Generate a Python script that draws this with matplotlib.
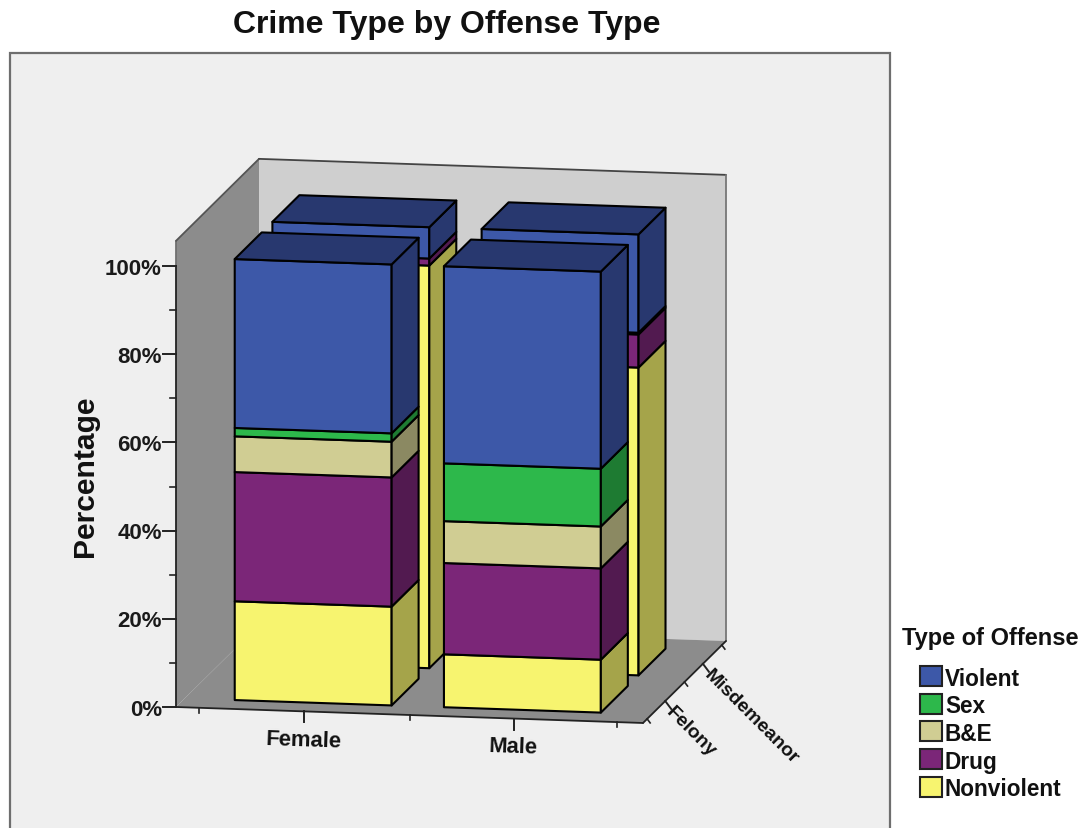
import numpy as np
import matplotlib
matplotlib.use("Agg")
import matplotlib.pyplot as plt
from matplotlib.patches import Polygon, Rectangle

plt.rcParams['font.family'] = ['Liberation Sans', 'DejaVu Sans']

title = "Crime Type by Offense Type"
y_label = "Percentage"
legend_title = "Type of Offense"
genders = ["Female", "Male"]
crime_types = ["Felony", "Misdemeanor"]
# bottom to top of each stack
offenses = ["Nonviolent", "Drug", "B&E", "Sex", "Violent"]
front_colors = ["#F7F46F", "#7B2678", "#D0CD93", "#2DB84B", "#3D58A8"]
side_colors = ["#A5A44A", "#521A50", "#8B8962", "#1E7B32", "#28386F"]

female_felony = [22.4, 29.3, 8.1, 1.9, 38.3]
female_misd = [91.3, 1.6, 0.0, 0.0, 7.1]
male_felony = [12.0, 20.7, 9.5, 13.1, 44.7]
male_misd = [69.8, 7.5, 0.4, 0.0, 22.3]

y_major = [0, 20, 40, 60, 80, 100]
y_minor = [10, 30, 50, 70, 90]

# oblique projection of the box, in pixels
origin = np.array([176.0, 708.0])
x_vec = np.array([467.0, 16.0])
d_vec = np.array([83.0, -82.0])
v_vec = np.array([0.0, -4.41])
v_top = 105.7

x_pos = [0.275, 0.723]
d_pos = [0.268, 0.722]
x_minor = [0.05, 0.5, 0.945]
d_minor = [0.05, 0.5, 0.95]
bar_w = 0.336
bar_d = 0.325


def proj(x, d, v):
    return origin + x * x_vec + d * d_vec + v * v_vec


def face(ax, pts, color, lw=1.5, edge="black", z=2):
    ax.add_patch(Polygon(pts, closed=True, facecolor=color, edgecolor=edge,
                         linewidth=lw, joinstyle="round", zorder=z))


def draw_bar(ax, xc, dc, values):
    x0, x1 = xc - bar_w / 2, xc + bar_w / 2
    d0, d1 = dc - bar_d / 2, dc + bar_d / 2
    tops = np.cumsum(values)
    bottoms = tops - np.array(values)
    for i in range(len(values)):
        if values[i] <= 0:
            continue
        b, t = bottoms[i], tops[i]
        face(ax, [proj(x0, d0, b), proj(x1, d0, b), proj(x1, d0, t), proj(x0, d0, t)], front_colors[i])
        face(ax, [proj(x1, d0, b), proj(x1, d1, b), proj(x1, d1, t), proj(x1, d0, t)], side_colors[i])
    t = tops[-1]
    face(ax, [proj(x0, d0, t), proj(x1, d0, t), proj(x1, d1, t), proj(x0, d1, t)], side_colors[-1])


fig = plt.figure(figsize=(10.9, 8.29), dpi=100, facecolor="white")
ax = fig.add_axes([0, 0, 1, 1])
ax.set_xlim(0, 1090)
ax.set_ylim(829, 0)
ax.axis("off")

# panel
ax.add_patch(Rectangle((10, 54), 880, 800, facecolor="#EFEFEF", edgecolor="#6E6E6E", linewidth=1.6, zorder=0))

# walls and floor
face(ax, [proj(0, 0, 0), proj(0, 1, 0), proj(0, 1, v_top), proj(0, 0, v_top)], "#8C8C8C", lw=0, edge="none", z=1)
face(ax, [proj(0, 1, 0), proj(1, 1, 0), proj(1, 1, v_top), proj(0, 1, v_top)], "#CFCFCF", lw=0, edge="none", z=1)
face(ax, [proj(0, 0, 0), proj(1, 0, 0), proj(1, 1, 0), proj(0, 1, 0)], "#8C8C8C", lw=0, edge="none", z=1)

edges = [
    (proj(0, 0, 100), proj(0, 0, v_top), "#707070"),
    (proj(0, 0, v_top), proj(0, 1, v_top), "#555555"),
    (proj(0, 1, v_top), proj(1, 1, v_top), "#444444"),
    (proj(1, 1, v_top), proj(1, 1, 0), "#777777"),
    (proj(0, 0, 0), proj(1, 0, 0), "#222222"),
    (proj(1, 0, 0), proj(1, 1, 0), "#222222"),
    (proj(0, 0, 0), proj(0, 0, 100), "#222222"),
]
for a, b, c in edges:
    ax.plot([a[0], b[0]], [a[1], b[1]], color=c, lw=1.3, zorder=1.5, solid_capstyle="round")

# y axis ticks
for v in y_major:
    p = proj(0, 0, v)
    ax.plot([p[0] - 13, p[0]], [p[1], p[1]], color="#222222", lw=1.4, zorder=1.5)
    ax.text(p[0] - 14, p[1] + 2, f"{v}%", ha="right", va="center", fontsize=16, fontweight="bold", color="#1a1a1a")
for v in y_minor:
    p = proj(0, 0, v)
    ax.plot([p[0] - 6, p[0]], [p[1], p[1]], color="#222222", lw=1.2, zorder=1.5)

# bars, back row first
rows = [[female_misd, male_misd], [female_felony, male_felony]]
for j, row in zip([1, 0], rows):
    for i, vals in enumerate(row):
        draw_bar(ax, x_pos[i], d_pos[j], vals)

# front axis ticks
for i, name in enumerate(genders):
    p = proj(x_pos[i], 0, 0)
    ax.plot([p[0], p[0]], [p[1], p[1] + 11], color="#222222", lw=1.4, zorder=1.5)
    ax.text(p[0] - 1, p[1] + 28, name, ha="center", va="center", rotation=-2, fontsize=15.8, color="#111111", fontweight="bold")
for x in x_minor:
    p = proj(x, 0, 0)
    ax.plot([p[0], p[0]], [p[1], p[1] + 5], color="#222222", lw=1.2, zorder=1.5)

# depth axis ticks
for j, name in enumerate(crime_types):
    p = proj(1, d_pos[j], 0)
    ax.plot([p[0], p[0] + 6], [p[1], p[1] + 8], color="#222222", lw=1.4, zorder=1.5)
    ax.text(p[0] + 4, p[1] + 8, name, ha="left", va="center", rotation=-45, rotation_mode="anchor",
            fontsize=14, color="#111111", fontweight="bold")
for d in d_minor:
    p = proj(1, d, 0)
    ax.plot([p[0], p[0] + 3], [p[1], p[1] + 4], color="#222222", lw=1.2, zorder=1.5)

# titles
ax.text(447, 25, title, ha="center", va="center", fontsize=23, fontweight="bold", color="#111111")
ax.text(85, 476, y_label, ha="center", va="center", rotation=90, fontsize=21.6, fontweight="bold", color="#111111")

# legend
ax.text(902, 639, legend_title, ha="left", va="center", fontsize=17, fontweight="bold", color="#111111")
legend_names = offenses[::-1]
legend_colors = front_colors[::-1]
for k, (name, c) in enumerate(zip(legend_names, legend_colors)):
    y = 667 + k * 27.7
    ax.add_patch(Rectangle((920, y), 22, 20, facecolor=c, edgecolor="#222222", linewidth=1.5, zorder=2))
    ax.text(945, y + 12, name, ha="left", va="center", fontsize=16.3, fontweight="bold", color="#111111")

fig.savefig("out.png", dpi=100)
